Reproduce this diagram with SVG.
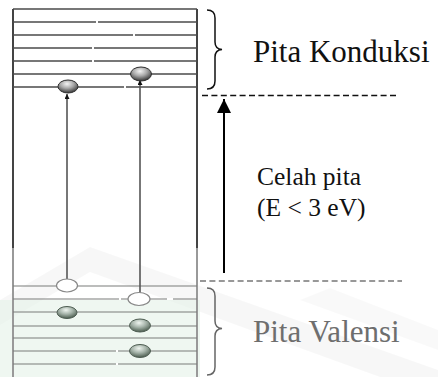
<svg xmlns="http://www.w3.org/2000/svg" width="438" height="377" viewBox="0 0 438 377">
<style>
.lvl{stroke:#4a4a4a;stroke-width:1.3;fill:none}
.lvl2{stroke:#7a7d7b;stroke-width:1.2;fill:none}
.vert{stroke:#444;stroke-width:2;fill:none}
.vert2{stroke:#999;stroke-width:2;fill:none}
.gap{stroke:#fff;stroke-width:2}
.brace{stroke:#111;stroke-width:1.5;fill:none}
.brace2{stroke:#666;stroke-width:1.5;fill:none}
.t{font-family:"Liberation Serif","Times New Roman",serif}
.dash{stroke:#111;stroke-width:1.4;stroke-dasharray:6,3.4}
.dash2{stroke:#777;stroke-width:1.4;stroke-dasharray:6,3.4}
.hole{fill:#fff;stroke:#888;stroke-width:1.2}
.trans{stroke:#555;stroke-width:1.6;fill:none}
.e{stroke:#2e2e2e;stroke-width:1}
.e2{stroke:#4d5c51;stroke-width:1}
</style>
<defs>
<radialGradient id="eg" cx="0.45" cy="0.3" r="0.75">
<stop offset="0" stop-color="#f4f4f4"/>
<stop offset="0.45" stop-color="#a8a8a8"/>
<stop offset="0.85" stop-color="#4a4a4a"/>
<stop offset="1" stop-color="#222"/>
</radialGradient>
<radialGradient id="eg2" cx="0.45" cy="0.3" r="0.75">
<stop offset="0" stop-color="#eef4ef"/>
<stop offset="0.45" stop-color="#a6b4aa"/>
<stop offset="0.85" stop-color="#5a6b5e"/>
<stop offset="1" stop-color="#3f4d43"/>
</radialGradient>
<marker id="ah" viewBox="0 0 10 10" refX="10" refY="5" markerWidth="5" markerHeight="5" orient="auto" markerUnits="userSpaceOnUse">
<path d="M0,0 L10,5 L0,10 z" fill="#111"/>
</marker>
<marker id="ahb" viewBox="0 0 10 10" refX="10" refY="5" markerWidth="14" markerHeight="14" orient="auto" markerUnits="userSpaceOnUse">
<path d="M0,0 L10,5 L0,10 z" fill="#000"/>
</marker>
</defs>
<rect width="438" height="377" fill="#fff"/>
<g id="watermark">
<polygon points="0,300 90,247 438,370 438,377 380,377 90,272 0,325" fill="#000" opacity="0.03"/>
<polygon points="300,300 330,288 438,330 438,350" fill="#000" opacity="0.025"/>
<polygon points="0,300 200,300 200,377 0,377" fill="#e4f1e7" opacity="0.6"/>
</g>
<g id="band-box">
<line class="vert" x1="13" y1="9" x2="13" y2="248"/>
<line class="vert" x1="197" y1="9" x2="197" y2="248"/>
<line class="vert2" x1="13" y1="248" x2="13" y2="377"/>
<line class="vert2" x1="197" y1="248" x2="197" y2="377"/>
<line class="lvl" x1="13" y1="9" x2="197" y2="9"/>
<line class="lvl" x1="13" y1="22" x2="197" y2="22"/>
<line class="lvl" x1="13" y1="35" x2="197" y2="35"/>
<line class="lvl" x1="13" y1="48" x2="197" y2="48"/>
<line class="lvl" x1="13" y1="61" x2="197" y2="61"/>
<line class="lvl" x1="13" y1="74" x2="197" y2="74"/>
<line class="lvl" x1="13" y1="87" x2="197" y2="87"/>
<line class="gap" x1="96" y1="22" x2="98" y2="22"/>
<line class="gap" x1="133" y1="35" x2="135" y2="35"/>
<line class="gap" x1="92" y1="48" x2="94" y2="48"/>
<line class="gap" x1="92" y1="61" x2="94" y2="61"/>
<line class="gap" x1="124" y1="87" x2="126" y2="87"/>
<line class="lvl2" x1="13" y1="286" x2="197" y2="286"/>
<line class="lvl2" x1="13" y1="299" x2="197" y2="299"/>
<line class="lvl2" x1="13" y1="312" x2="197" y2="312"/>
<line class="lvl2" x1="13" y1="326" x2="197" y2="326"/>
<line class="lvl2" x1="13" y1="338" x2="197" y2="338"/>
<line class="lvl2" x1="13" y1="351" x2="197" y2="351"/>
<line class="lvl2" x1="13" y1="364" x2="197" y2="364"/>
<line class="gap" x1="119" y1="299" x2="121" y2="299"/>
<line class="gap" x1="167" y1="299" x2="173" y2="299"/>
<line class="gap" x1="116" y1="351" x2="118" y2="351"/>
<line class="gap" x1="116" y1="364" x2="118" y2="364"/>
</g>
<g id="connectors">
<line class="trans" x1="67" y1="279" x2="67" y2="94" marker-end="url(#ah)"/>
<line class="trans" x1="140" y1="293" x2="140" y2="80" marker-end="url(#ah)"/>
<line x1="224" y1="273" x2="224" y2="99" stroke="#000" stroke-width="2" marker-end="url(#ahb)"/>
<line class="dash" x1="202" y1="95.5" x2="398" y2="95.5"/>
<line class="dash2" x1="200" y1="281" x2="402" y2="281"/>
</g>
<g id="electrons">
<ellipse class="e" cx="68" cy="86.5" rx="10" ry="6.5" fill="url(#eg)"/>
<ellipse class="e" cx="141" cy="74" rx="10.5" ry="7" fill="url(#eg)"/>
<ellipse class="e2" cx="67" cy="312.5" rx="10" ry="6" fill="url(#eg2)"/>
<ellipse class="e2" cx="140" cy="325.5" rx="10.5" ry="6.5" fill="url(#eg2)"/>
<ellipse class="e2" cx="140" cy="351" rx="10.5" ry="6.5" fill="url(#eg2)"/>
</g>
<g id="holes">
<ellipse class="hole" cx="67" cy="285.5" rx="10.5" ry="6.5"/>
<ellipse class="hole" cx="139" cy="299" rx="11" ry="6.5"/>
</g>
<g id="conduction-label">
<path class="brace" d="M207,10 Q215,10 215,18 L215,42 Q215,49 222,49.5 Q215,50 215,57 L215,81 Q215,89 207,89"/>
<text class="t" x="253" y="62" font-size="31" fill="#111">Pita Konduksi</text>
</g>
<g id="gap-label">
<text class="t" x="257" y="185" font-size="25.5" fill="#111">Celah pita</text>
<text class="t" x="257" y="216" font-size="25.5" fill="#111">(E &lt; 3 eV)</text>
</g>
<g id="valence-label">
<path class="brace2" d="M207,288 Q215,288 215,296 L215,321 Q215,328 222,328.5 Q215,329 215,336 L215,367 Q215,375 207,375"/>
<text class="t" x="253" y="342" font-size="31" fill="#6e6e6e">Pita Valensi</text>
</g>
</svg>
